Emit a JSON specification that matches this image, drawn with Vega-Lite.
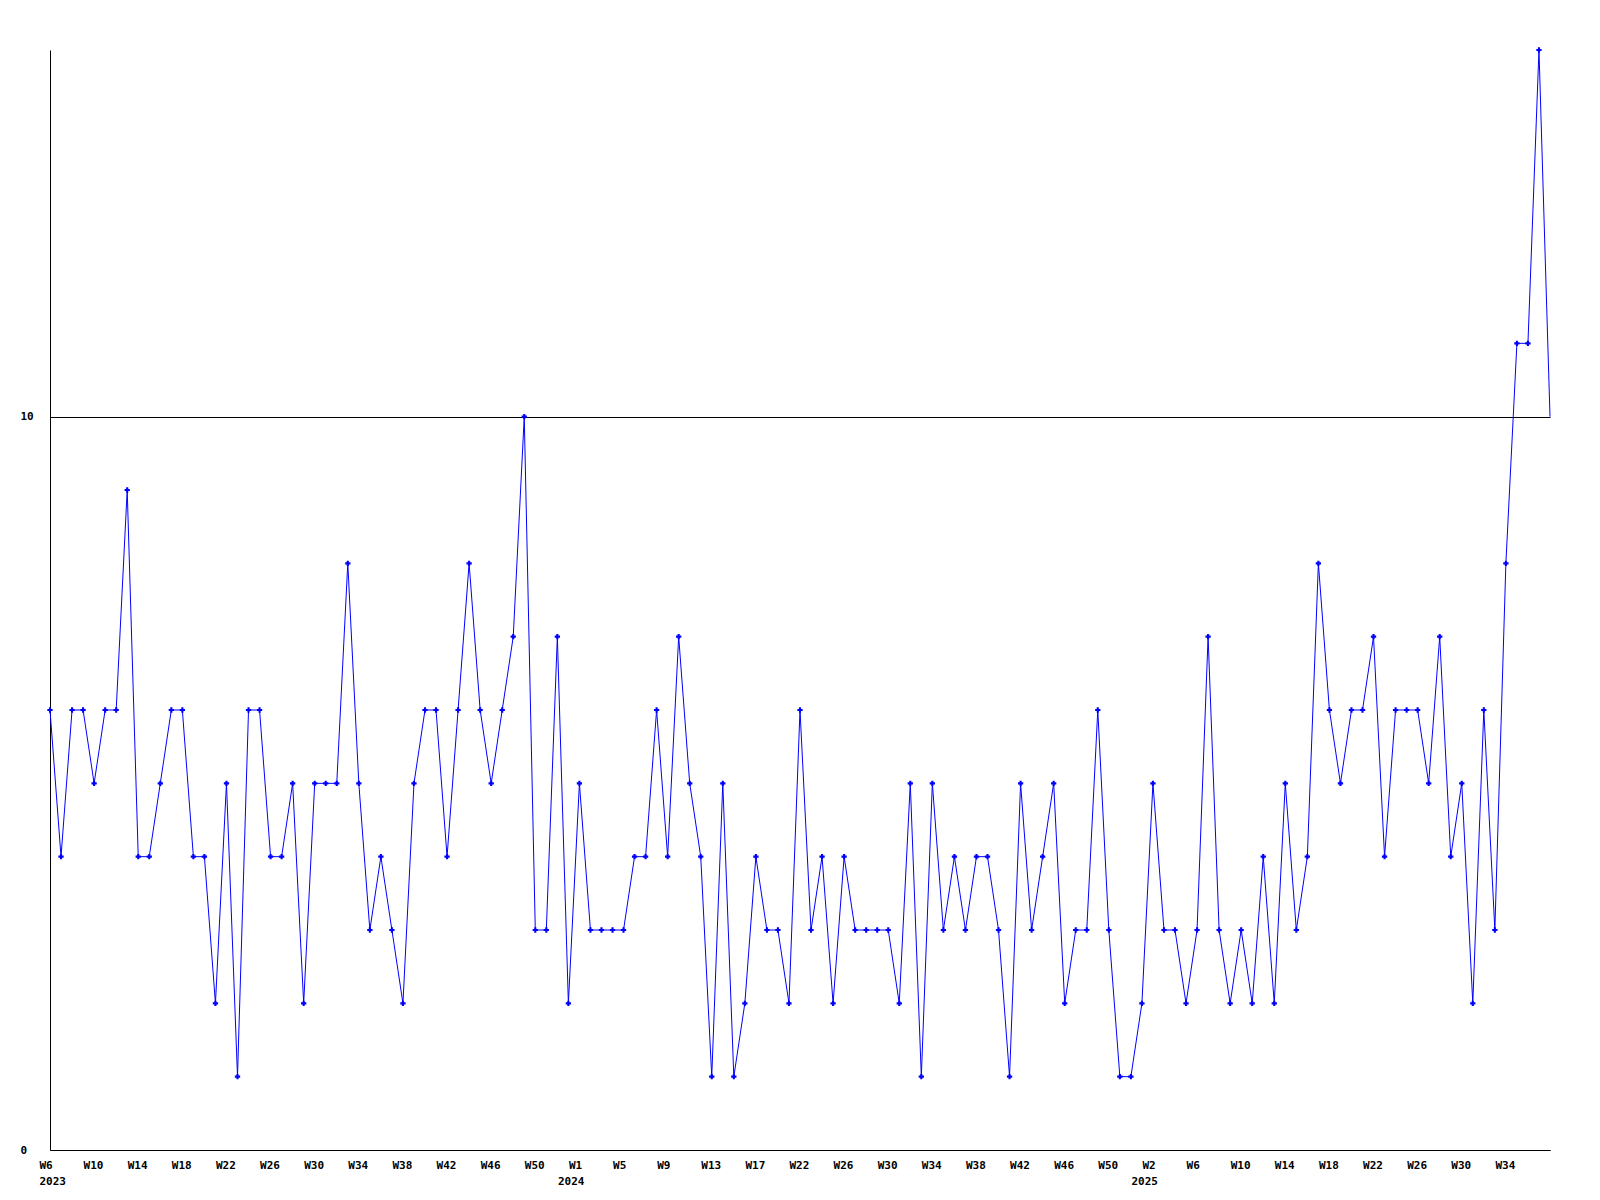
{
  "$schema": "https://vega.github.io/schema/vega-lite/v6.json",
  "width": 1500,
  "height": 1100,
  "autosize": {"type": "none"},
  "padding": {"left": 50, "top": 50, "right": 50, "bottom": 50},
  "background": "white",
  "config": {"view": {"stroke": null}},
  "data": {"values": [
    {"week": "2023 W6", "n": 6}, {"week": "2023 W7", "n": 4}, {"week": "2023 W8", "n": 6}, {"week": "2023 W9", "n": 6},
    {"week": "2023 W10", "n": 5}, {"week": "2023 W11", "n": 6}, {"week": "2023 W12", "n": 6}, {"week": "2023 W13", "n": 9},
    {"week": "2023 W14", "n": 4}, {"week": "2023 W15", "n": 4}, {"week": "2023 W16", "n": 5}, {"week": "2023 W17", "n": 6},
    {"week": "2023 W18", "n": 6}, {"week": "2023 W19", "n": 4}, {"week": "2023 W20", "n": 4}, {"week": "2023 W21", "n": 2},
    {"week": "2023 W22", "n": 5}, {"week": "2023 W23", "n": 1}, {"week": "2023 W24", "n": 6}, {"week": "2023 W25", "n": 6},
    {"week": "2023 W26", "n": 4}, {"week": "2023 W27", "n": 4}, {"week": "2023 W28", "n": 5}, {"week": "2023 W29", "n": 2},
    {"week": "2023 W30", "n": 5}, {"week": "2023 W31", "n": 5}, {"week": "2023 W32", "n": 5}, {"week": "2023 W33", "n": 8},
    {"week": "2023 W34", "n": 5}, {"week": "2023 W35", "n": 3}, {"week": "2023 W36", "n": 4}, {"week": "2023 W37", "n": 3},
    {"week": "2023 W38", "n": 2}, {"week": "2023 W39", "n": 5}, {"week": "2023 W40", "n": 6}, {"week": "2023 W41", "n": 6},
    {"week": "2023 W42", "n": 4}, {"week": "2023 W43", "n": 6}, {"week": "2023 W44", "n": 8}, {"week": "2023 W45", "n": 6},
    {"week": "2023 W46", "n": 5}, {"week": "2023 W47", "n": 6}, {"week": "2023 W48", "n": 7}, {"week": "2023 W49", "n": 10},
    {"week": "2023 W50", "n": 3}, {"week": "2023 W51", "n": 3}, {"week": "2023 W52", "n": 7}, {"week": "2023 W53", "n": 2},
    {"week": "2024 W1", "n": 5}, {"week": "2024 W2", "n": 3}, {"week": "2024 W3", "n": 3}, {"week": "2024 W4", "n": 3},
    {"week": "2024 W5", "n": 3}, {"week": "2024 W6", "n": 4}, {"week": "2024 W7", "n": 4}, {"week": "2024 W8", "n": 6},
    {"week": "2024 W9", "n": 4}, {"week": "2024 W10", "n": 7}, {"week": "2024 W11", "n": 5}, {"week": "2024 W12", "n": 4},
    {"week": "2024 W13", "n": 1}, {"week": "2024 W14", "n": 5}, {"week": "2024 W15", "n": 1}, {"week": "2024 W16", "n": 2},
    {"week": "2024 W17", "n": 4}, {"week": "2024 W18", "n": 3}, {"week": "2024 W19", "n": 3}, {"week": "2024 W20", "n": 2},
    {"week": "2024 W22", "n": 6}, {"week": "2024 W23", "n": 3}, {"week": "2024 W24", "n": 4}, {"week": "2024 W25", "n": 2},
    {"week": "2024 W26", "n": 4}, {"week": "2024 W27", "n": 3}, {"week": "2024 W28", "n": 3}, {"week": "2024 W29", "n": 3},
    {"week": "2024 W30", "n": 3}, {"week": "2024 W31", "n": 2}, {"week": "2024 W32", "n": 5}, {"week": "2024 W33", "n": 1},
    {"week": "2024 W34", "n": 5}, {"week": "2024 W35", "n": 3}, {"week": "2024 W36", "n": 4}, {"week": "2024 W37", "n": 3},
    {"week": "2024 W38", "n": 4}, {"week": "2024 W39", "n": 4}, {"week": "2024 W40", "n": 3}, {"week": "2024 W41", "n": 1},
    {"week": "2024 W42", "n": 5}, {"week": "2024 W43", "n": 3}, {"week": "2024 W44", "n": 4}, {"week": "2024 W45", "n": 5},
    {"week": "2024 W46", "n": 2}, {"week": "2024 W47", "n": 3}, {"week": "2024 W48", "n": 3}, {"week": "2024 W49", "n": 6},
    {"week": "2024 W50", "n": 3}, {"week": "2024 W51", "n": 1}, {"week": "2024 W52", "n": 1},
    {"week": "2025 W1", "n": 2}, {"week": "2025 W2", "n": 5}, {"week": "2025 W3", "n": 3}, {"week": "2025 W4", "n": 3},
    {"week": "2025 W5", "n": 2}, {"week": "2025 W6", "n": 3}, {"week": "2025 W7", "n": 7}, {"week": "2025 W8", "n": 3},
    {"week": "2025 W9", "n": 2}, {"week": "2025 W10", "n": 3}, {"week": "2025 W11", "n": 2}, {"week": "2025 W12", "n": 4},
    {"week": "2025 W13", "n": 2}, {"week": "2025 W14", "n": 5}, {"week": "2025 W15", "n": 3}, {"week": "2025 W16", "n": 4},
    {"week": "2025 W17", "n": 8}, {"week": "2025 W18", "n": 6}, {"week": "2025 W19", "n": 5}, {"week": "2025 W20", "n": 6},
    {"week": "2025 W21", "n": 6}, {"week": "2025 W22", "n": 7}, {"week": "2025 W23", "n": 4}, {"week": "2025 W24", "n": 6},
    {"week": "2025 W25", "n": 6}, {"week": "2025 W26", "n": 6}, {"week": "2025 W27", "n": 5}, {"week": "2025 W28", "n": 7},
    {"week": "2025 W29", "n": 4}, {"week": "2025 W30", "n": 5}, {"week": "2025 W31", "n": 2}, {"week": "2025 W32", "n": 6},
    {"week": "2025 W33", "n": 3}, {"week": "2025 W34", "n": 8}, {"week": "2025 W35", "n": 11}, {"week": "2025 W36", "n": 11},
    {"week": "2025 W37", "n": 15}, {"week": "2025 W38", "n": 10}
  ]},
  "encoding": {
    "y": {
      "field": "n", "type": "quantitative",
      "scale": {"domain": [0, 15], "nice": false, "zero": true},
      "axis": {
        "title": null,
        "values": [0, 10],
        "labelAlign": "left",
        "labelBaseline": "middle",
        "labelPadding": 30,
        "labelFont": "DejaVu Sans Mono",
        "labelFontWeight": "bold",
        "labelFontSize": 11,
        "labelColor": "black",
        "ticks": false,
        "grid": true,
        "gridColor": "black",
        "gridOpacity": 1,
        "gridWidth": 1,
        "domainColor": "black",
        "domainWidth": 1
      }
    }
  },
  "layer": [
    {
      "mark": {"type": "line", "color": "#0000ff", "strokeWidth": 1},
      "encoding": {
        "x": {
          "field": "week", "type": "ordinal", "sort": null,
          "scale": {"type": "point", "padding": 0},
          "axis": {
            "title": null,
            "orient": "bottom",
            "values": ["2023 W6", "2023 W10", "2023 W14", "2023 W18", "2023 W22", "2023 W26", "2023 W30", "2023 W34", "2023 W38", "2023 W42", "2023 W46", "2023 W50",
                       "2024 W1", "2024 W5", "2024 W9", "2024 W13", "2024 W17", "2024 W22", "2024 W26", "2024 W30", "2024 W34", "2024 W38", "2024 W42", "2024 W46", "2024 W50",
                       "2025 W2", "2025 W6", "2025 W10", "2025 W14", "2025 W18", "2025 W22", "2025 W26", "2025 W30", "2025 W34"],
            "labelExpr": "split(datum.value,' ')[1]",
            "labelAngle": 0,
            "labelAlign": "left",
            "labelOffset": -11,
            "labelPadding": 9,
            "labelFont": "DejaVu Sans Mono",
            "labelFontWeight": "bold",
            "labelFontSize": 11,
            "labelColor": "black",
            "labelOverlap": false,
            "labelBound": false,
            "labelFlush": false,
            "ticks": false,
            "grid": false,
            "domainColor": "black",
            "domainWidth": 1
          }
        }
      }
    },
    {
      "transform": [{"filter": "datum.week != '2025 W38'"}],
      "mark": {"type": "point", "shape": "cross", "filled": true, "color": "#0000ff", "size": 28, "opacity": 1},
      "encoding": {
        "x": {
          "field": "week", "type": "ordinal", "sort": null,
          "scale": {"type": "point", "padding": 0},
          "axis": {
            "title": null,
            "orient": "bottom",
            "values": ["2023 W6", "2024 W1", "2025 W2"],
            "labelExpr": "split(datum.value,' ')[0]",
            "labelAngle": 0,
            "labelAlign": "left",
            "labelOffset": {"condition": {"test": "datum.value == '2023 W6'", "value": -11}, "value": -22},
            "labelPadding": 25,
            "labelFont": "DejaVu Sans Mono",
            "labelFontWeight": "bold",
            "labelFontSize": 11,
            "labelColor": "black",
            "labelOverlap": false,
            "labelBound": false,
            "labelFlush": false,
            "ticks": false,
            "grid": false,
            "domain": false
          }
        }
      }
    }
  ],
  "resolve": {"axis": {"x": "independent"}}
}
